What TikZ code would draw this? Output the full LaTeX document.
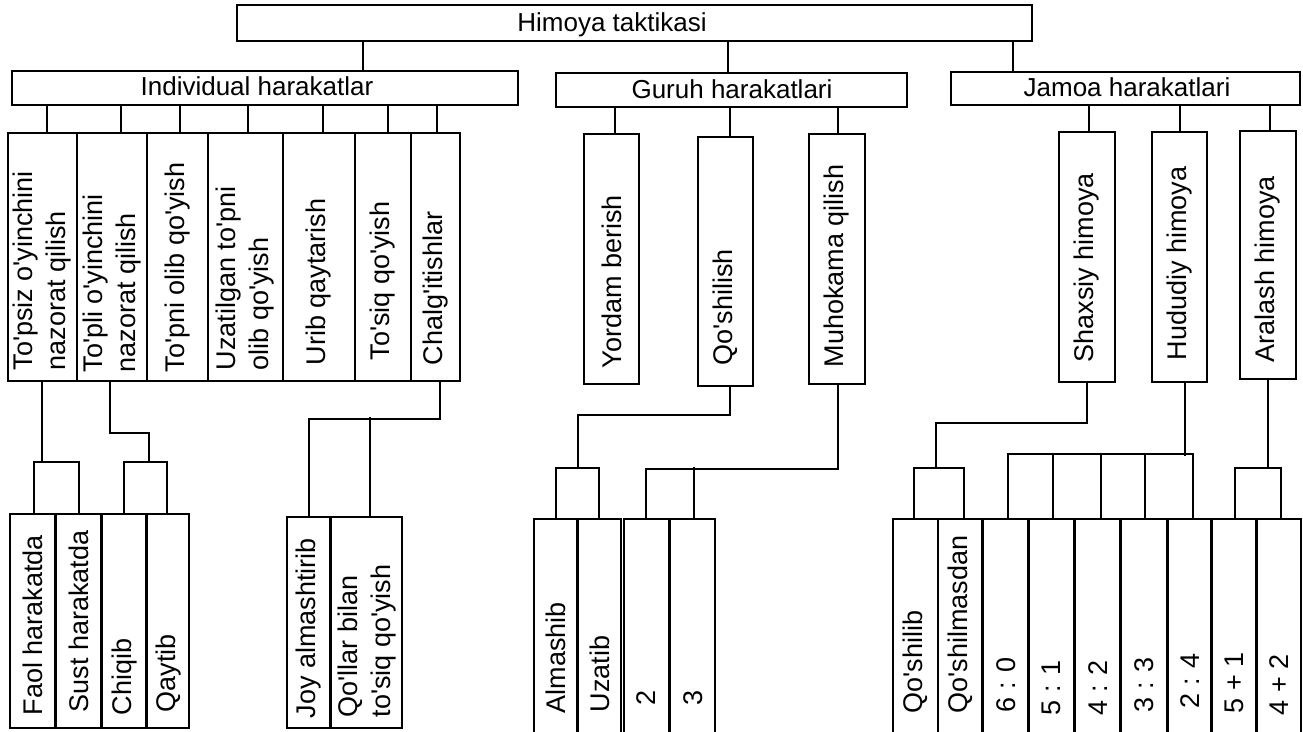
\documentclass[tikz,border=0pt]{standalone}
\usepackage{fontspec}
\setmainfont{Liberation Sans}
\usetikzlibrary{fit}
\newcommand\ap{\textquotesingle}
\newcommand\mkbox[5]{\node[box, fit={(#2,#3) (#4,#5)}] (#1) {};}
\newcommand\mkvbox[7]{\node[box, fit={(#2,#3) (#4,#5)}] (#1) {};\node[vtext] (#1t) at ([yshift=#6pt]#1.south) {#7};}
\begin{document}
\begin{tikzpicture}[x=0.5pt,y=-0.5pt,
  box/.style={draw=black, line width=0.8pt, inner sep=0pt},
  htext/.style={inner sep=0pt, anchor=base, font=\fontsize{13pt}{16pt}\selectfont},
  vtext/.style={inner sep=0pt, anchor=west, rotate=90, align=left, font=\fontsize{13.5pt}{16.5pt}\selectfont},
  conn/.style={draw=black, line width=0.8pt}]
\useasboundingbox (0,0) rectangle (1303,732);
\clip (0,0) rectangle (1303,732);
\fill[white] (0,0) rectangle (1303,732);

% level 1
\mkbox{top}{237}{5}{1032}{41}
\node[htext] (toptxt) at (612,32) {Himoya taktikasi};
% level 2
\mkbox{ind}{12}{71}{518}{105}
\node[htext] (indtxt) at (257,96) {Individual harakatlar};
\mkbox{gur}{556}{73}{907}{107}
\node[htext] (gurtxt) at (732,99) {Guruh harakatlari};
\mkbox{jam}{951}{72}{1300}{105}
\node[htext] (jamtxt) at (1127,97) {Jamoa harakatlari};

\draw[conn] (top.south -| 363,0) -- (ind.north -| 363,0);
\draw[conn] (top.south -| 728,0) -- (gur.north -| 728,0);
\draw[conn] (top.south -| 1013,0) -- (jam.north -| 1013,0);

% level 3 individual
\mkvbox{i1}{8}{133}{77}{381}{5.5}{To\ap psiz o\ap yinchini\\nazorat qilish}
\mkvbox{i2}{77}{133}{147}{381}{4.5}{To\ap pli o\ap yinchini\\nazorat qilish}
\mkvbox{i3}{147}{133}{208}{381}{4.5}{To\ap pni olib qo\ap yish}
\mkvbox{i4}{208}{133}{283}{381}{5.5}{Uzatilgan to\ap pni\\olib qo\ap yish}
\mkvbox{i5}{283}{133}{355}{381}{8}{Urib qaytarish}
\mkvbox{i6}{355}{133}{411}{381}{10.5}{To\ap siq qo\ap yish}
\mkvbox{i7}{411}{133}{460}{381}{8}{Chalg\ap itishlar}
% level 3 guruh
\mkvbox{g1}{584}{134}{639}{384}{8}{Yordam berish}
\mkvbox{g2}{698}{137}{753}{386}{10.5}{Qo\ap shilish}
\mkvbox{g3}{809}{134}{865}{384}{8.5}{Muhokama qilish}
% level 3 jamoa
\mkvbox{s1}{1059}{132}{1115}{382}{10}{Shaxsiy himoya}
\mkvbox{s2}{1152}{132}{1207}{382}{11}{Hududiy himoya}
\mkvbox{s3}{1240}{131}{1296}{379}{8.5}{Aralash himoya}

\foreach \n/\x in {i1/47,i2/121,i3/180,i4/248,i5/323,i6/388,i7/437}
  \draw[conn] (ind.south -| \x,0) -- (\n.north -| \x,0);
\foreach \n/\x in {g1/615,g2/730,g3/838}
  \draw[conn] (gur.south -| \x,0) -- (\n.north -| \x,0);
\foreach \n/\x in {s1/1089,s2/1180,s3/1270}
  \draw[conn] (jam.south -| \x,0) -- (\n.north -| \x,0);

% bottom left
\mkvbox{faol}{10}{514}{55}{728}{6.5}{Faol harakatda}
\mkvbox{sust}{56.5}{514}{101}{728}{8}{Sust harakatda}
\mkvbox{chiq}{102.5}{514}{146}{728}{6.5}{Chiqib}
\mkvbox{qayt}{147.5}{514}{189}{728}{8}{Qaytib}
\mkvbox{joy}{287}{517}{330}{728}{5}{Joy almashtirib}
\mkvbox{qol}{331.5}{517}{402}{728}{5.5}{Qo\ap llar bilan\\to\ap siq qo\ap yish}
% bottom middle
\mkvbox{alm}{534}{519}{577}{745}{16}{Almashib}
\mkvbox{uza}{578.5}{519}{621}{745}{16.5}{Uzatib}
\mkvbox{two}{624}{519}{669}{745}{20}{2}
\mkvbox{thr}{670.5}{519}{715}{745}{20}{3}
% bottom right
\mkvbox{qsh}{893}{519}{938}{745}{16}{Qo\ap shilib}
\mkvbox{qsm}{938}{519}{982}{745}{16}{Qo\ap shilmasdan}
\mkvbox{b60}{983.5}{519}{1028}{745}{16.5}{6 : 0}
\mkvbox{b51}{1029.5}{519}{1074}{745}{15}{5 : 1}
\mkvbox{b42}{1075.5}{519}{1120}{745}{15}{4 : 2}
\mkvbox{b33}{1121.5}{519}{1167}{745}{16.5}{3 : 3}
\mkvbox{b24}{1168.5}{519}{1211}{745}{18.5}{2 : 4}
\mkvbox{p51}{1212.5}{519}{1256}{745}{16}{5 + 1}
\mkvbox{p42}{1257.5}{519}{1301}{745}{15}{4 + 2}

% brackets
\coordinate (j1) at (42,462);
\draw[conn] (i1.south -| j1) -- (j1);
\draw[conn] (faol.north -| 34,0) |- (j1) -| (sust.north -| 79,0);

\coordinate (j2) at (149,462);
\draw[conn] (i2.south -| 110,0) -- ++(0,51) -| (j2);
\draw[conn] (chiq.north -| 124,0) |- (j2) -| (qayt.north -| 167,0);

\draw[conn] (i7.south -| 440,0) -- ++(0,37) -| (joy.north -| 309,0);
\draw[conn] (qol.north -| 370,0) -- ++(0,-99);

\coordinate (j4) at (578,468);
\draw[conn] (g2.south -| 730,0) -- ++(0,28) -| (j4);
\draw[conn] (alm.north -| 556,0) |- (j4) -| (uza.north -| 599,0);

\draw[conn] (g3.south -| 838,0) -- ++(0,84) -| (two.north -| 646,0);
\draw[conn] (thr.north -| 694,0) -- ++(0,-51);

\coordinate (j6) at (936,468);
\draw[conn] (s1.south -| 1087,0) -- ++(0,40) -| (j6);
\draw[conn] (qsh.north -| 914,0) |- (j6) -| (qsm.north -| 964,0);

\draw[conn] (s2.south -| 1185,0) -- ++(0,73);
\draw[conn] (b60.north -| 1008,0) -- ++(0,-64) -| (b24.north -| 1193,0);
\foreach \n/\x in {b51/1053,b42/1101,b33/1145}
  \draw[conn] (\n.north -| \x,0) -- ++(0,-64);

\coordinate (j8) at (1268,468);
\draw[conn] (s3.south -| j8) -- (j8);
\draw[conn] (p51.north -| 1235,0) |- (j8) -| (p42.north -| 1281,0);
\end{tikzpicture}
\end{document}
